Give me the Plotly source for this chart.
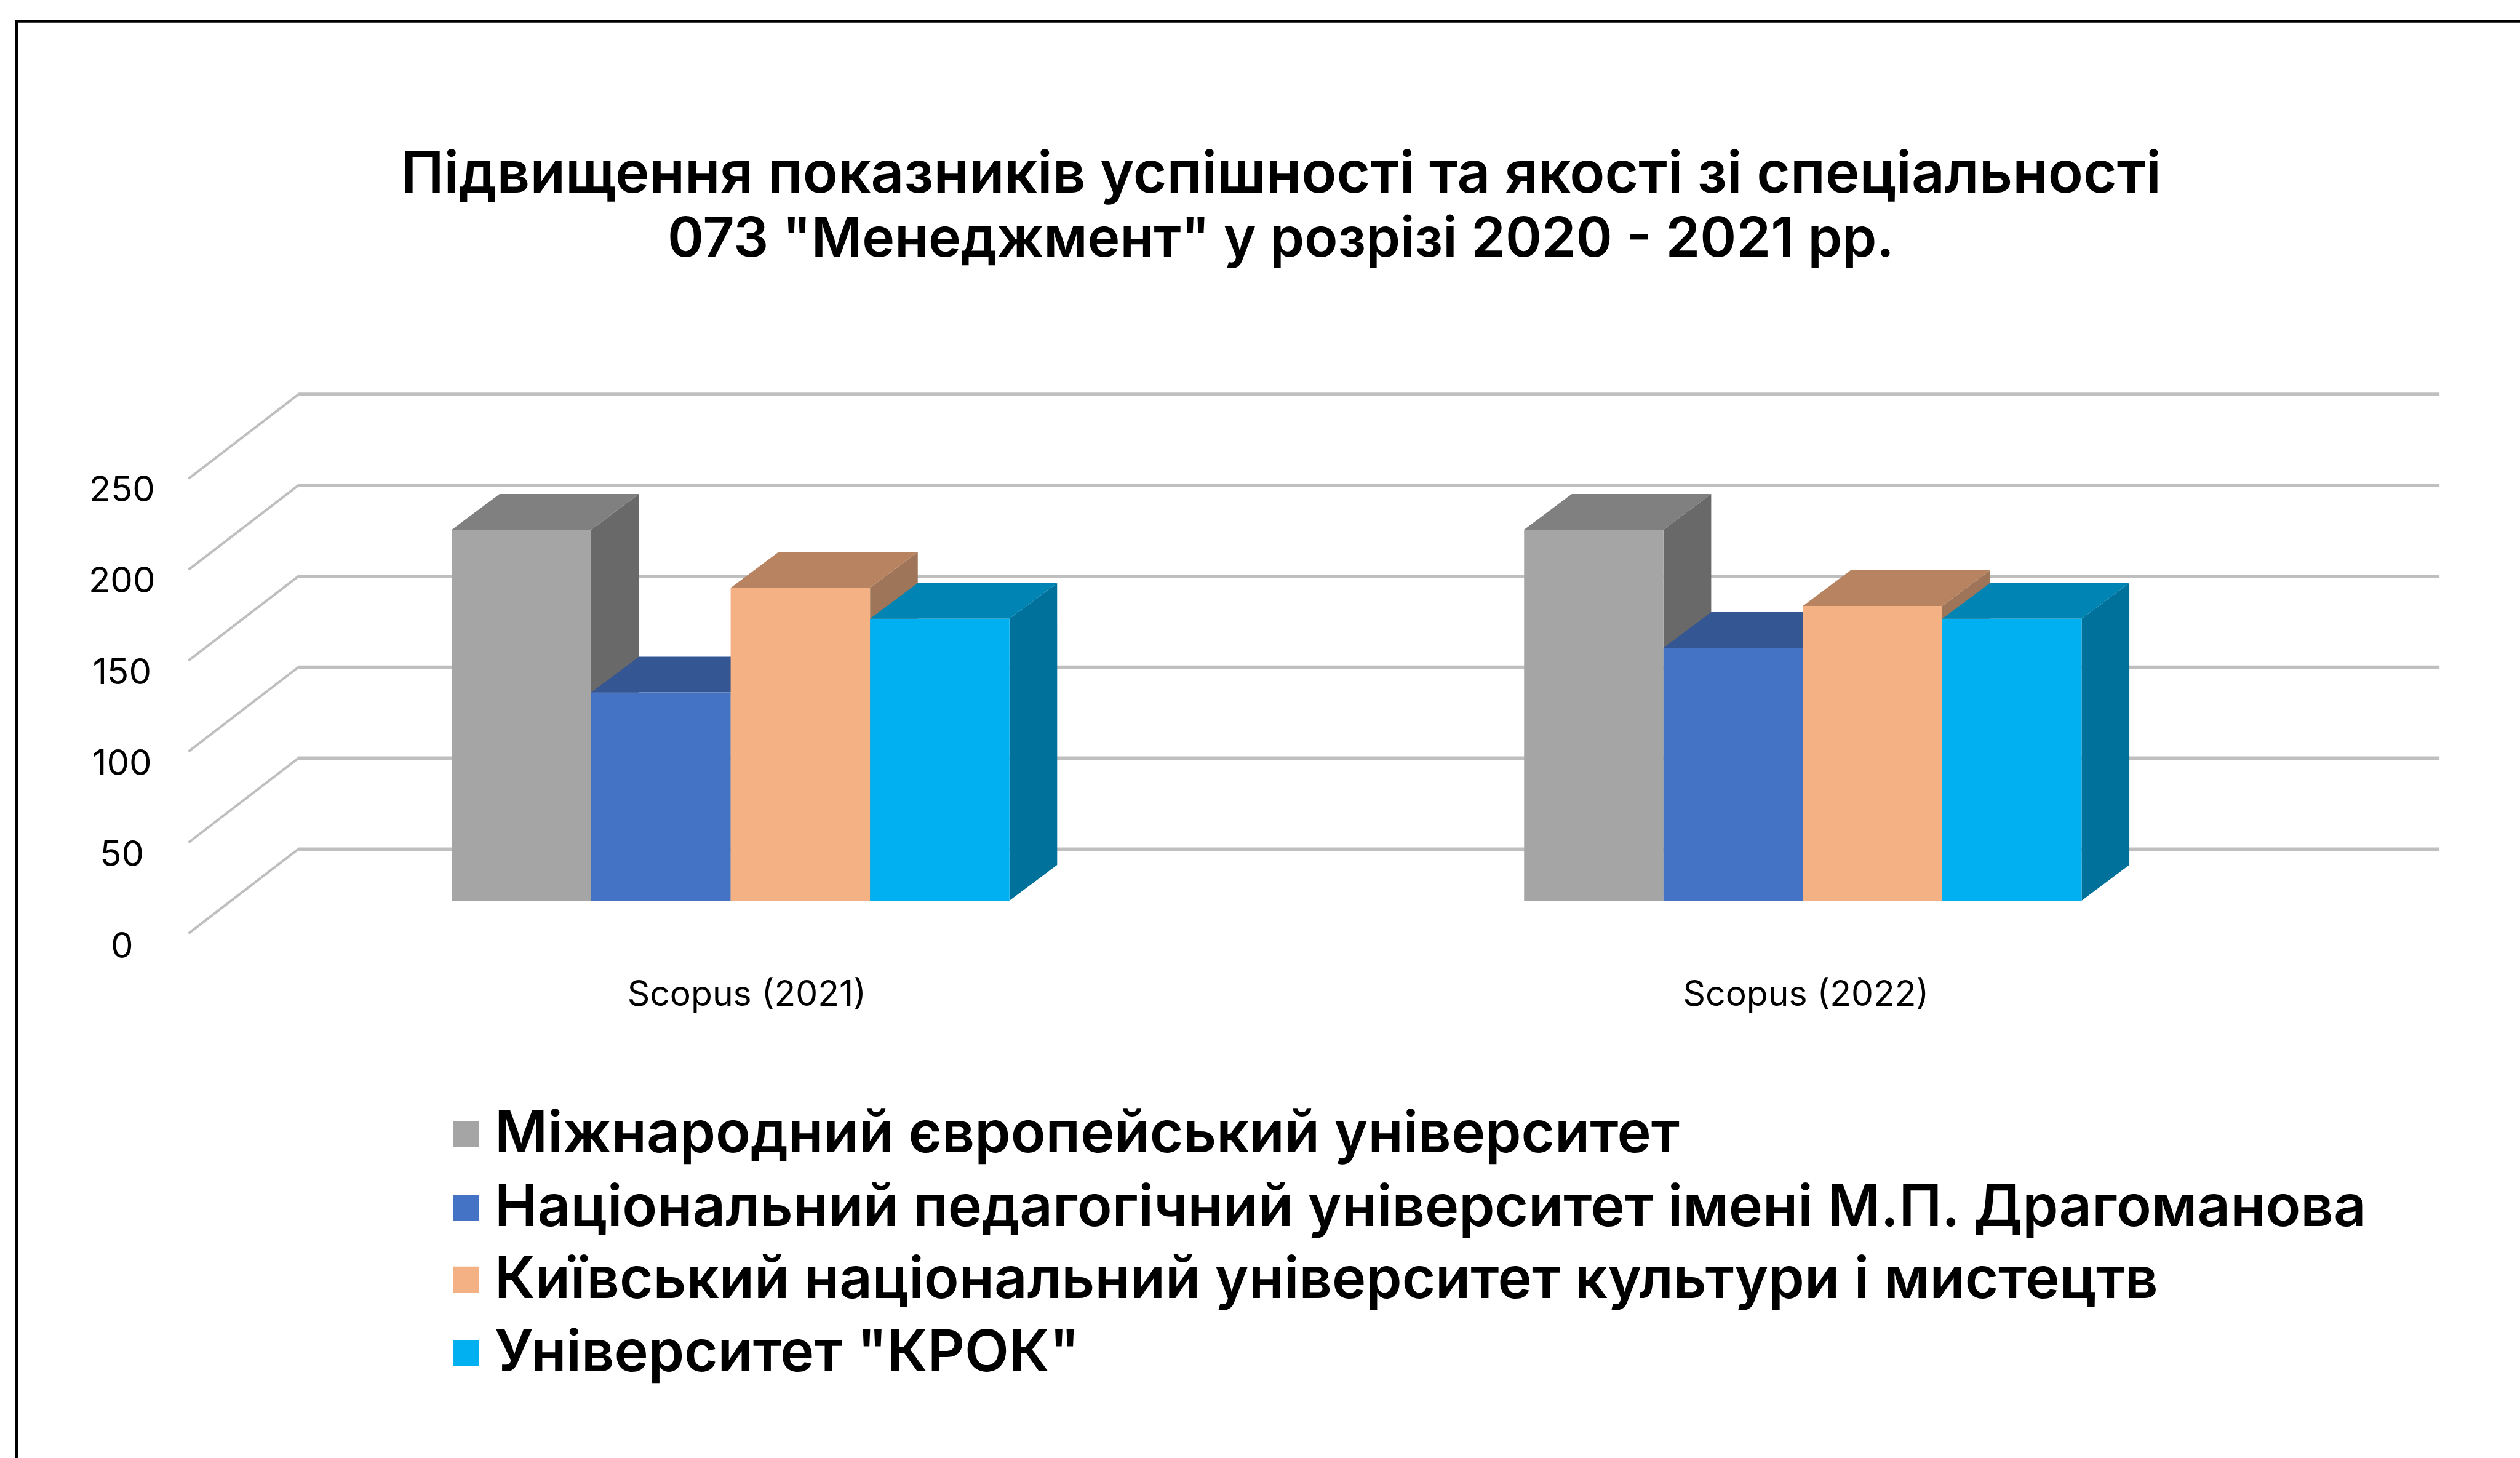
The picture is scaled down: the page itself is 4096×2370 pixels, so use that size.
import plotly.graph_objects as go

# ---------- data ----------
categories = ["Scopus (2021)", "Scopus (2022)"]
series_names = [
    "Міжнародний європейський університет",
    "Національний педагогічний університет імені М.П. Драгоманова",
    "Київський національний університет культури і мистецтв",
    'Університет "КРОК"',
]
intl_european = [204, 204]
drahomanov = [114.5, 139]
culture_arts = [172, 162]
krok = [155, 155]
series_values = [intl_european, drahomanov, culture_arts, krok]
tick_values = [0, 50, 100, 150, 200, 250]
tick_labels = ["0", "50", "100", "150", "200", "250"]
title_lines = ['Підвищення показників успішності та якості зі спеціальності',
               '073 "Менеджмент" у розрізі 2020 - 2021 рр.']

# ---------- colours ----------
front_colors = ["#A5A5A5", "#4472C4", "#F4B183", "#00B0F0"]
top_colors = ["#808080", "#345693", "#B78361", "#0084B4"]
side_colors = ["#696969", "#2E4D84", "#9E7558", "#00719B"]
grid_color = "#BFBFBF"

# ---------- layout constants (reference px -> page) ----------
REF_W, REF_H = 5227, 3024
S = 4096 / REF_W
X0_REF, X_UNIT = 1515.5, 2224.0      # x of category 0, px per category
Y0_REF, Y_UNIT = 1868.0, 3.772       # y of value 0 on the bars' plane, px per value unit

def xd(px):  # ref px -> x data
    return (px - X0_REF) / X_UNIT
def yd(py):  # ref px -> y data
    return (Y0_REF - py) / Y_UNIT
def xp(px):
    return px / REF_W
def yp(py):
    return 1 - py / REF_H

x_range = [xd(0), xd(REF_W)]
y_range = [yd(REF_H), yd(0)]

BAR_W = 0.13
DX = 99 / X_UNIT
DY = 74 / Y_UNIT
GRID_FRONT_X, GRID_BACK_X, GRID_RIGHT_X = xd(391), xd(619), xd(5060)
GRID_FRONT_Y, GRID_BACK_Y = yd(1936), yd(1761)

FONT = "Inter"
fig = go.Figure()

# back wall and side wall grid
for v in tick_values:
    fig.add_trace(go.Scatter(
        x=[GRID_FRONT_X, GRID_BACK_X], y=[GRID_FRONT_Y + v, GRID_BACK_Y + v],
        mode="lines", line=dict(color=grid_color, width=4),
        showlegend=False, hoverinfo="skip"))
    fig.add_trace(go.Scatter(
        x=[GRID_BACK_X, GRID_RIGHT_X], y=[GRID_BACK_Y + v, GRID_BACK_Y + v],
        mode="lines", line=dict(color=grid_color, width=5.5),
        showlegend=False, hoverinfo="skip"))

# 3D side and top faces, painted left to right
for c in range(len(categories)):
    for s, values in enumerate(series_values):
        left = c - 2 * BAR_W + s * BAR_W
        right = left + BAR_W
        v = values[c]
        fig.add_trace(go.Scatter(
            x=[right, right + DX, right + DX, right, right],
            y=[0, DY, v + DY, v, 0], fill="toself", fillcolor=side_colors[s],
            mode="lines", line=dict(width=0, color=side_colors[s]),
            showlegend=False, hoverinfo="skip"))
        fig.add_trace(go.Scatter(
            x=[left, left + DX, right + DX, right, left],
            y=[v, v + DY, v + DY, v, v], fill="toself", fillcolor=top_colors[s],
            mode="lines", line=dict(width=0, color=top_colors[s]),
            showlegend=False, hoverinfo="skip"))

# front faces on an overlaying pair of axes, above all side faces
for s, values in enumerate(series_values):
    fig.add_trace(go.Bar(
        x=[0, 1], y=values, name=series_names[s], xaxis="x2", yaxis="y2",
        marker=dict(color=front_colors[s], line=dict(width=0)), showlegend=False))

# value labels on their own axis
LAB_0, LAB_250 = 1968, 1021
lab_scale = (LAB_0 - LAB_250) / 250
fig.add_trace(go.Scatter(
    x=[xd(253)] * len(tick_values), y=tick_values, yaxis="y3",
    mode="text", text=tick_labels, textposition="middle center",
    textfont=dict(family=FONT, size=58, color="#000000"),
    showlegend=False, hoverinfo="skip"))

shapes = [
    dict(type="rect", xref="paper", yref="paper", x0=xp(31), x1=1, y0=yp(47), y1=yp(41),
         fillcolor="#000000", line=dict(width=0)),
    dict(type="rect", xref="paper", yref="paper", x0=xp(31), x1=xp(37), y0=0, y1=yp(41),
         fillcolor="#000000", line=dict(width=0)),
]
annotations = [dict(xref="paper", yref="paper", x=xp(2657), y=yp(490),
                    xanchor="center", yanchor="middle", showarrow=False, text=title_lines[1],
                    font=dict(family=FONT, size=89.5, color="#000000", weight=600))]
legend_y = [2352, 2505, 2654, 2806]
for s, name in enumerate(series_names):
    shapes.append(dict(type="rect", xref="paper", yref="paper",
                       x0=xp(940), x1=xp(994), y0=yp(legend_y[s] + 27), y1=yp(legend_y[s] - 27),
                       fillcolor=front_colors[s], line=dict(width=0)))
    annotations.append(dict(xref="paper", yref="paper", x=xp(1023), y=yp(legend_y[s] - 5),
                            xanchor="left", yanchor="middle", showarrow=False, text=name,
                            font=dict(family=FONT, size=93.5, color="#000000", weight=600)))

fig.update_layout(
    width=4096, height=2370, autosize=False,
    margin=dict(l=0, r=0, t=0, b=0, pad=0),
    paper_bgcolor="#FFFFFF", plot_bgcolor="#FFFFFF",
    barmode="group", bargap=0.48, bargroupgap=0,
    showlegend=False,
    title=dict(text=title_lines[0], x=xp(2657), xanchor="center",
               y=yp(357), yanchor="middle",
               font=dict(family=FONT, size=94, color="#000000", weight=600)),
    xaxis=dict(range=x_range, domain=[0, 1], showgrid=False, zeroline=False, showline=False,
               tickmode="array", tickvals=[xd(1549), xd(3746)], ticktext=categories,
               ticks="", tickfont=dict(family=FONT, size=57, color="#000000"),
               anchor="free", position=yp(2012)),
    yaxis=dict(range=y_range, domain=[0, 1], visible=False),
    xaxis2=dict(range=x_range, domain=[0, 1], overlaying="x", visible=False),
    yaxis2=dict(range=y_range, domain=[0, 1], overlaying="y", visible=False),
    yaxis3=dict(range=[(LAB_0 - REF_H) / lab_scale, LAB_0 / lab_scale], domain=[0, 1],
                overlaying="y", visible=False),
    shapes=shapes, annotations=annotations,
)
fig.write_html("out.html", config=dict(displayModeBar=False),
               post_script="document.body.style.margin='0';")
